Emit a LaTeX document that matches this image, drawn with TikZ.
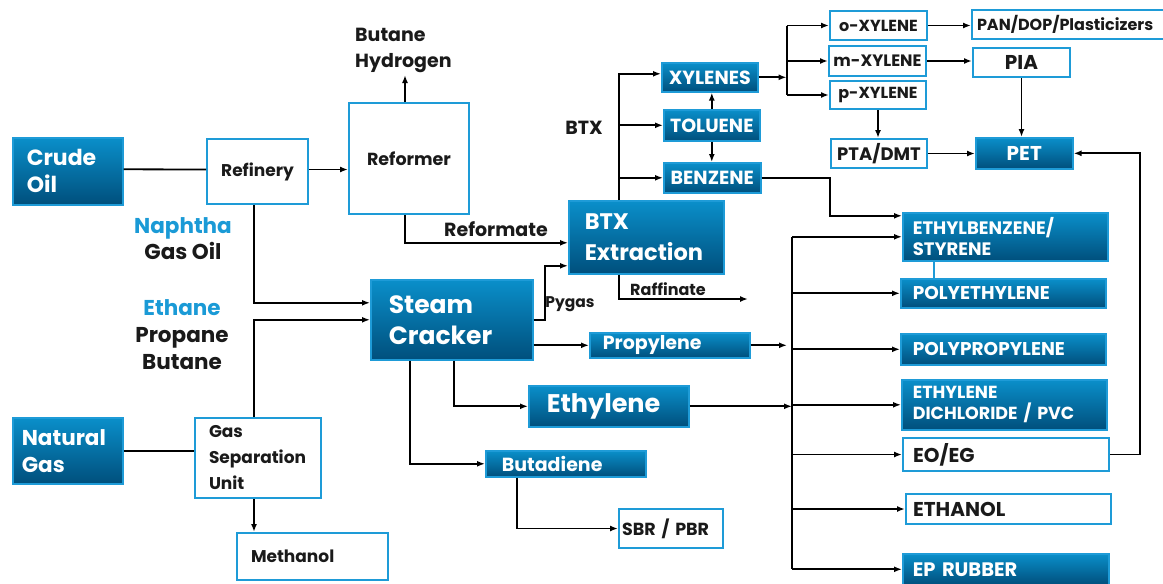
\documentclass[tikz,border=0pt]{standalone}
\usepackage{fontspec}
\setmainfont{Poppins}[BoldFont={Poppins Bold}]
\usetikzlibrary{arrows.meta,calc}
\definecolor{bl}{HTML}{1E9BD7}
\definecolor{gtop}{HTML}{0A8FCA}
\definecolor{gbot}{HTML}{004F7C}
\definecolor{tx}{HTML}{1A1A1A}
\definecolor{lbl}{HTML}{1A9AD6}
\newcommand\myfs[2]{\fontsize{#1}{#2}\selectfont}
\tikzset{
 fb/.style={draw=bl, line width=1.6pt, top color=gtop, bottom color=gbot, text=white, inner sep=0pt, anchor=north west},
 wb/.style={draw=bl, line width=2pt, fill=white, text=tx, inner sep=0pt, anchor=north west},
 arr/.style={line width=1.8pt, -{Latex[length=8pt,width=6pt]}},
 ln/.style={line width=1.8pt},
 lab/.style={text=tx, inner sep=0pt},
}
\begin{document}
\begin{tikzpicture}[x=1pt,y=-1pt]
\useasboundingbox (0,0) rectangle (1163,584);
\clip (0,0) rectangle (1163,584);
\fill[white] (0,0) rectangle (1163,584);
% feed boxes
\node[fb, minimum width=110pt, minimum height=67pt, text width=82pt, align=left, inner xsep=14pt, font=\bfseries\myfs{22}{27}] (crude) at (12,137) {Crude\\Oil};
\node[wb, minimum width=101pt, minimum height=65pt, font=\bfseries\myfs{17}{18}] (refinery) at (206,138) {Refinery};
\node[wb, minimum width=120pt, minimum height=111pt, font=\bfseries\myfs{17.5}{18}] (reformer) at (348,102) {Reformer};
\node[lab, anchor=north west, align=left, font=\bfseries\myfs{19}{26}] (bh) at (355,28) {Butane\\Hydrogen};
\node[lab, align=center, font=\bfseries\myfs{21.5}{26}] (naph) at (183,239) {\textcolor{lbl}{Naphtha}\\Gas Oil};
\node[lab, align=center, font=\bfseries\myfs{21.5}{27}] (eth) at (182,335) {\textcolor{lbl}{Ethane}\\Propane\\Butane};
\node[fb, minimum width=162pt, minimum height=80pt, text width=126pt, align=left, inner xsep=18pt, font=\bfseries\myfs{25}{31}] (sc) at (370,279) {Steam\\Cracker};
\node[fb, minimum width=155pt, minimum height=73pt, text width=123pt, align=left, inner xsep=16pt, font=\bfseries\myfs{22.5}{31}] (btx) at (568,200) {BTX\\Extraction};
\node[fb, minimum width=110pt, minimum height=66pt, text width=92pt, align=left, inner xsep=9pt, font=\bfseries\myfs{21.5}{27}] (ng) at (12,417) {Natural\\Gas};
\node[wb, minimum width=126pt, minimum height=80pt, text width=98pt, align=left, inner xsep=14pt, font=\bfseries\myfs{17}{26}] (gsu) at (194,417) {Gas\\Separation\\Unit};
\node[wb, minimum width=151pt, minimum height=47pt, text width=123pt, align=left, inner xsep=14pt, font=\bfseries\myfs{17}{18}] (meth) at (236,532) {Methanol};
% aromatics
\node[fb, minimum width=96pt, minimum height=29pt, font=\bfseries\myfs{19}{18}] (xyl) at (661,62) {XYLENES};
\node[fb, minimum width=96pt, minimum height=31pt, font=\bfseries\myfs{19}{18}] (tol) at (663,109) {TOLUENE};
\node[fb, minimum width=97pt, minimum height=30pt, font=\bfseries\myfs{19}{18}] (ben) at (663,162) {BENZENE};
\node[wb, minimum width=97pt, minimum height=29pt, font=\bfseries\myfs{16}{18}] (ox) at (829,10) {o-XYLENE};
\node[wb, minimum width=97pt, minimum height=30pt, font=\bfseries\myfs{16.5}{18}] (mx) at (828,45) {m-XYLENE};
\node[wb, minimum width=96pt, minimum height=28pt, font=\bfseries\myfs{16}{18}] (px) at (829,80) {p-XYLENE};
\node[wb, minimum width=96pt, minimum height=29pt, font=\bfseries\myfs{18}{18}] (pta) at (830,138) {PTA/DMT};
\node[wb, minimum width=200pt, minimum height=29pt, text width=190pt, align=left, inner xsep=5pt, font=\bfseries\myfs{16}{18}] (pan) at (971,9) {PAN/DOP/Plasticizers};
\node[wb, minimum width=97pt, minimum height=29pt, font=\bfseries\myfs{20}{18}] (pia) at (972,47) {PIA};
\node[fb, minimum width=97pt, minimum height=31pt, font=\bfseries\myfs{20}{18}] (pet) at (975,137) {PET};
% ethylene derivatives
\node[fb, minimum width=205pt, minimum height=48pt, text width=185pt, align=left, inner xsep=10pt, font=\bfseries\myfs{18}{21}] (eb) at (902,212) {ETHYLBENZENE/\\STYRENE};
\node[fb, minimum width=205pt, minimum height=29pt, text width=181pt, align=left, inner xsep=12pt, font=\bfseries\myfs{18.5}{18}] (pe) at (900,278) {POLYETHYLENE};
\node[fb, minimum width=205pt, minimum height=31pt, text width=181pt, align=left, inner xsep=12pt, font=\bfseries\myfs{18.5}{18}] (pp) at (900,333) {POLYPROPYLENE};
\node[fb, minimum width=205pt, minimum height=50pt, text width=183pt, align=left, inner xsep=11pt, font=\bfseries\myfs{17.5}{21}] (edc) at (901,379) {ETHYLENE\\DICHLORIDE / PVC};
\node[wb, minimum width=206pt, minimum height=33pt, text width=186pt, align=left, inner xsep=10pt, font=\bfseries\myfs{20}{18}] (eoeg) at (902,437) {EO/EG};
\node[wb, minimum width=205pt, minimum height=30pt, text width=191pt, align=left, inner xsep=7pt, font=\bfseries\myfs{20}{18}] (etoh) at (905,493) {ETHANOL};
\node[fb, minimum width=206pt, minimum height=31pt, text width=186pt, align=left, inner xsep=10pt, font=\bfseries\myfs{19.5}{18}] (epr) at (902,553) {EP RUBBER};
% olefins
\node[fb, minimum width=160pt, minimum height=25pt, text width=134pt, align=left, inner xsep=13pt, font=\bfseries\myfs{19}{18}] (prop) at (589,332) {Propylene};
\node[fb, minimum width=160pt, minimum height=41pt, text width=124pt, align=left, inner xsep=18pt, font=\bfseries\myfs{25.5}{26}] (ethy) at (528,385) {Ethylene};
\node[fb, minimum width=160pt, minimum height=26pt, text width=128pt, align=left, inner xsep=16pt, font=\bfseries\myfs{19}{18}] (but) at (485,450) {Butadiene};
\node[wb, minimum width=104pt, minimum height=39pt, text width=98pt, align=left, inner xsep=3pt, font=\bfseries\myfs{17.5}{18}] (sbr) at (618,508) {SBR / PBR};
% labels
\node[lab, font=\bfseries\myfs{19}{18}] (reflab) at (496,229) {Reformate};
\node[lab, font=\bfseries\myfs{15.5}{16}] (pyg) at (570,304) {Pygas};
\node[lab, font=\bfseries\myfs{16}{16}] (raflab) at (668,289) {Raffinate};
\node[lab, font=\bfseries\myfs{19}{18}] (btxlab) at (584,128) {BTX};
% connectors: feeds
\draw[ln] ($(crude.east)+(0,-2)$) -- ($(refinery.west)+(0,-2)$);
\draw[arr] ($(refinery.east)+(0,-2)$) -- ($(refinery.east -| reformer.west)+(0,-2)$);
\draw[arr] ($(reformer.north)+(-4,0)$) -- ($(reformer.north)+(-4,-27)$);
\draw[arr] ($(reformer.south)+(-4,0)$) |- ($(btx.west)+(0,5.5)$);
\draw[arr] ($(refinery.south)+(-3.5,0)$) |- ($(sc.west)+(0,-17)$);
\draw[ln] (ng.east) -- (ng.east -| gsu.west);
\draw[arr] ($(gsu.north)+(-4,0)$) |- (sc.west);
\draw[arr] ($(gsu.south)+(-4,0)$) coordinate (g1) -- (g1 |- meth.north);
% steam cracker outputs
\draw[arr] (sc.east) -- ++(11,0) |- ($(btx.west)+(0,28.5)$);
\draw[arr] (sc.east |- prop.west) -- (prop.west);
\draw[arr] ($(sc.south)+(2,0)$) |- (ethy.west);
\draw[arr] ($(sc.south)+(-42,0)$) |- (but.west);
\draw[arr] ($(but.south)+(-49,0)$) |- (sbr.west);
% BTX
\coordinate (raf) at (748,299);
\coordinate (bt) at ($(btx.north)+(-27.5,0)$);
\draw[arr] ($(btx.south)+(-27.5,0)$) |- (raf);
\draw[arr] (bt) |- ($(xyl.west)+(0,-3.5)$);
\draw[arr] (bt |- tol.west) -- (tol.west);
\draw[arr] (bt |- ben.west) -- (ben.west);
\draw[arr] (tol.north) -- (tol.north |- xyl.south);
\draw[arr] (tol.south) -- (tol.south |- ben.north);
\draw[arr] (ben.east) -- ++(68,0) |- ($(eb.west)+(0,-21)$);
% xylenes
\draw[arr] (xyl.east) -- ++(28,0) coordinate (xs);
\draw[ln] (xs |- ox.west) -- (xs |- px.west);
\draw[arr] (xs |- ox.west) -- (ox.west);
\draw[arr] (xs |- mx.west) -- (mx.west);
\draw[arr] (xs |- px.west) -- (px.west);
\draw[arr] (px.south) -- (px.south |- pta.north);
\draw[arr] (ox.east) -- (ox.east -| pan.west);
\draw[arr] (mx.east) -- (mx.east -| pia.west);
\draw[arr] (pia.south) -- (pia.south |- pet.north);
\draw[arr] (pta.east) -- (pta.east -| pet.west);
\draw[arr] (eoeg.east) -- ++(30,0) |- (pet.east);
% ethylene trunk
\coordinate (tk) at (792,0);
\draw[ln] (tk |- eb.west) -- (tk |- epr.west);
\foreach \n in {eb,pe,pp,edc,eoeg,etoh,epr} \draw[arr] (tk |- \n.west) -- (\n.west);
\draw[arr] (prop.east) -- ($(tk |- prop.east)+(-5,0)$);
\draw[arr] (ethy.east) -- (tk |- ethy.east);
\draw[bl, line width=1.5pt] ($(eb.south west)+(32,0)$) -- ($(pe.north west)+(34,0)$);
\end{tikzpicture}
\end{document}
